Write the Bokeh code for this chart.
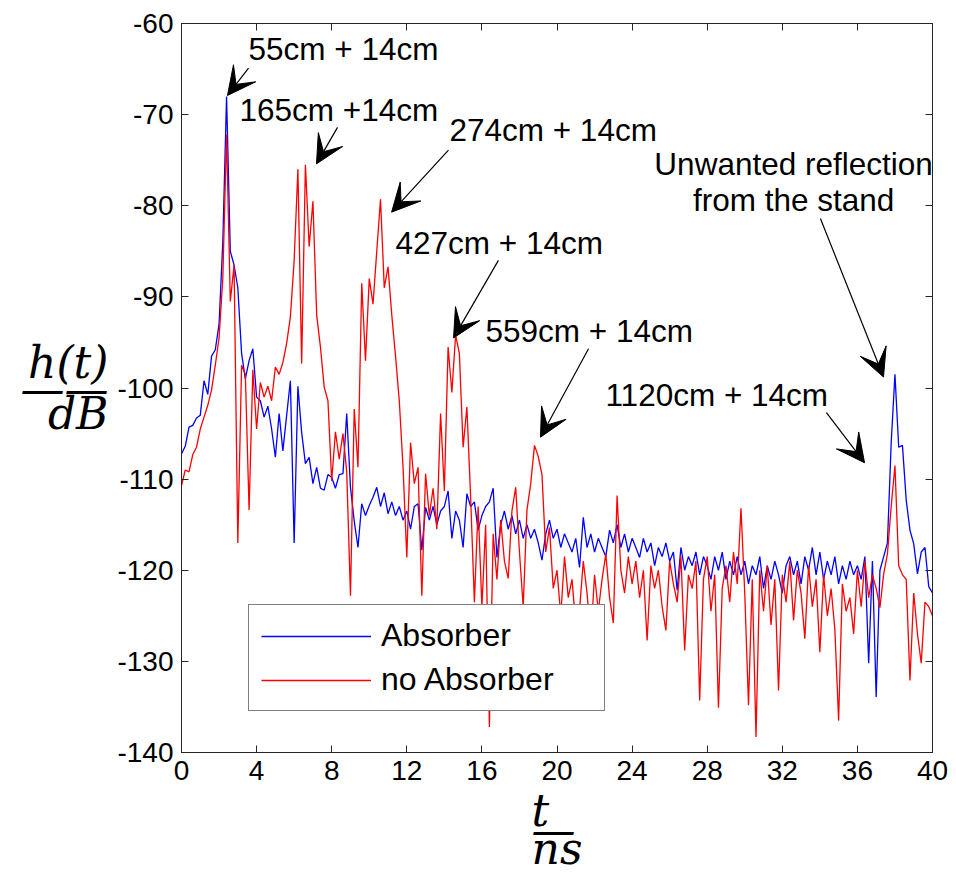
from bokeh.plotting import figure
from bokeh.models import (Range1d, LinearAxis, FixedTicker, Label, Arrow, VeeHead,
                          Legend, LegendItem, ColumnDataSource, Title)
from bokeh.embed import file_html
from bokeh.resources import INLINE

# ---------------- data ----------------
T_STEP = 0.2  # ns between samples, starting at 0 ns

absorber = [
    -107.2, -106.4, -104.3, -104.1, -103.3, -103.0, -99.2, -100.7, -96.5, -95.8,
    -93.0, -84.0, -68.0, -85.0, -86.5, -89.0, -96.2, -99.0, -97.0, -95.7,
    -101.0, -101.4, -103.2, -102.0, -104.5, -107.6, -102.8, -106.9, -103.0, -99.2,
    -117.0, -99.8, -104.9, -108.3, -107.6, -110.5, -108.7, -111.0, -111.2, -109.5,
    -109.8, -111.0, -109.5, -109.4, -102.8, -110.9, -114.6, -117.5, -112.7, -114.0,
    -112.9, -112.0, -110.9, -113.0, -111.5, -113.8, -112.5, -114.0, -113.0, -114.5,
    -113.5, -115.5, -113.0, -112.7, -117.8, -113.1, -114.5, -113.0, -115.0, -113.5,
    -113.0, -111.3, -116.5, -113.5, -114.5, -117.5, -111.6, -113.0, -112.5, -115.6,
    -114.0, -113.0, -112.5, -111.0, -118.6, -115.0, -113.5, -115.5, -114.0, -116.0,
    -114.5, -116.5, -115.0, -116.5, -115.5, -117.0, -118.9, -116.0, -114.5, -116.5,
    -115.5, -117.5, -116.0, -117.0, -118.0, -116.5, -119.7, -114.2, -117.5, -116.0,
    -118.0, -116.5, -117.5, -118.5, -115.6, -117.0, -115.0, -117.5, -116.0, -118.0,
    -116.5, -117.5, -118.6, -116.5, -118.0, -117.0, -119.5, -117.5, -118.5, -117.0,
    -119.0, -118.0, -122.2, -117.5, -120.0, -118.5, -119.5, -118.0, -120.5, -118.5,
    -119.5, -121.0, -118.5, -120.0, -118.0, -121.0, -119.0, -120.5, -118.5, -120.5,
    -119.0, -121.5, -119.5, -120.5, -118.5, -122.0, -119.5, -121.0, -119.0, -120.5,
    -122.5, -119.5, -118.5, -120.5, -119.0, -121.5, -118.5, -120.0, -117.5, -120.5,
    -118.0, -121.0, -119.0, -120.5, -118.5, -121.5, -119.5, -121.0, -119.0, -120.5,
    -119.5, -121.0, -118.5, -130.2, -119.0, -133.9, -120.0, -118.5, -117.0, -106.0,
    -98.5, -106.5, -106.3, -112.3, -115.6, -117.1, -120.4, -118.0, -117.5, -121.8,
    -122.5,
]

no_absorber = [
    -110.7, -109.0, -109.2, -107.3, -106.5, -104.5, -103.2, -101.9, -100.2, -97.5,
    -94.5, -88.0, -72.2, -90.5, -86.5, -117.0, -97.5, -98.5, -113.4, -98.0,
    -104.5, -99.4, -101.0, -99.8, -101.4, -97.7, -98.5, -97.2, -95.1, -92.2,
    -86.0, -76.0, -97.3, -75.5, -84.5, -79.5, -92.0, -95.5, -99.9, -101.4,
    -110.2, -104.8, -107.8, -105.0, -109.2, -122.8, -102.3, -108.7, -88.5, -97.0,
    -88.0, -90.8, -85.0, -79.3, -89.0, -86.7, -92.0, -96.5, -101.4, -108.7,
    -118.6, -106.0, -110.5, -108.7, -122.8, -109.4, -114.0, -111.0, -115.5, -102.8,
    -111.3, -95.5, -100.5, -94.2, -96.2, -106.5, -102.1, -112.0, -123.5, -113.0,
    -124.0, -115.0, -137.2, -116.0, -121.0, -114.5, -119.0, -120.9, -113.5, -110.9,
    -118.0, -124.0, -113.4, -110.5, -106.3, -107.5, -109.5, -118.0, -115.3, -122.0,
    -120.0, -125.0, -118.5, -123.0, -121.0, -126.0, -124.4, -119.0, -122.5, -127.5,
    -120.5, -124.5, -121.0, -118.2, -123.0, -125.8, -111.8, -120.0, -122.5, -118.5,
    -121.5, -119.0, -123.0, -120.0, -127.7, -119.5, -122.0, -120.0, -124.0, -126.6,
    -119.0, -121.5, -123.5, -118.5, -128.8, -120.5, -122.0, -119.0, -134.3, -121.0,
    -118.5, -124.5, -120.5, -135.1, -122.0, -119.5, -123.5, -118.0, -121.5, -113.2,
    -122.5, -134.8, -121.0, -138.3, -120.0, -124.5, -119.5, -126.0, -121.0, -133.2,
    -120.5, -123.5, -119.0, -125.5, -120.0, -122.5, -127.5, -119.5, -124.0, -121.0,
    -129.0, -120.5, -125.0, -122.0, -126.5, -136.5, -121.5, -124.5, -123.0, -127.0,
    -120.0, -124.0, -119.0, -123.0, -120.5, -122.0, -124.1, -120.4, -118.2, -113.0,
    -108.5, -119.5, -120.5, -121.0, -132.1, -122.5, -127.0, -130.2, -123.5, -124.0,
    -125.0,
]

x_ticks = [0, 4, 8, 12, 16, 20, 24, 28, 32, 36, 40]
y_ticks = [-140, -130, -120, -110, -100, -90, -80, -70, -60]
y_tick_labels = ["-140", "-130", "-120", "-110", "-100", "-90", "-80", "-70", "-60"]

y_label = "h(t)\n——\ndB"
x_label = "t\n—\nns"

# annotations: text, text x, text y, arrow tail (x, y), arrow tip (x, y)
annotations = [
    ("55cm + 14cm", 3.57, -62.85, 3.57, -64.9, 2.45, -67.9),
    ("165cm +14cm", 3.09, -69.5, 8.31, -71.4, 7.19, -75.4),
    ("274cm + 14cm", 14.27, -71.7, 14.22, -73.9, 11.19, -80.7),
    ("427cm + 14cm", 11.4, -84.1, 16.88, -86.0, 14.49, -94.5),
    ("559cm + 14cm", 16.19, -93.7, 21.68, -95.7, 19.12, -105.4),
    ("1120cm + 14cm", 22.58, -100.8, 34.35, -102.7, 36.38, -108.2),
]
stand_lines = ["Unwanted reflection", "from the stand"]
stand_arrow = (34.03, -81.4, 37.39, -98.8)

times = [i * T_STEP for i in range(len(absorber))]

# ---------------- figure ----------------
TXT = "Liberation Sans"
MATH = "DejaVu Serif"
AX_COL = "#262626"

p = figure(width=952, height=874, output_backend="svg", toolbar_location=None,
           x_range=Range1d(0, 40), y_range=Range1d(-140, -60),
           min_border_left=181, min_border_right=20, min_border_top=23,
           min_border_bottom=122, background_fill_color="white",
           border_fill_color="white")
p.xgrid.visible = False
p.ygrid.visible = False
p.outline_line_color = AX_COL
p.outline_line_width = 1

src = ColumnDataSource(dict(t=times, a=absorber, n=no_absorber))
rb = p.line("t", "a", source=src, line_color="#0000ff", line_width=1.3)
rr = p.line("t", "n", source=src, line_color="#ff0000", line_width=1.3)

def style_axis(ax, ticks, labels=None):
    ax.ticker = FixedTicker(ticks=ticks)
    ax.major_tick_in = 7
    ax.major_tick_out = 0
    ax.minor_tick_line_color = None
    ax.axis_line_color = AX_COL
    ax.major_tick_line_color = AX_COL
    if labels is not None:
        ax.major_label_overrides = {t: l for t, l in zip(ticks, labels)}
        ax.major_label_text_font = TXT
        ax.major_label_text_font_size = "28px"
        ax.major_label_text_color = "black"
        ax.major_label_standoff = 8
    else:
        ax.major_label_overrides = {t: "" for t in ticks}
        ax.major_label_text_font_size = "0px"
        ax.major_label_standoff = 0

style_axis(p.xaxis[0], x_ticks, [str(t) for t in x_ticks])
style_axis(p.yaxis[0], y_ticks, y_tick_labels)
ax_r = LinearAxis()
style_axis(ax_r, y_ticks)
p.add_layout(ax_r, "right")
ax_t = LinearAxis()
style_axis(ax_t, x_ticks)
p.add_layout(ax_t, "above")

# y axis label as a horizontal stacked fraction
ya = p.yaxis[0]
ya.axis_label = y_label
ya.axis_label_orientation = "horizontal"
ya.axis_label_text_font = MATH
ya.axis_label_text_font_style = "italic"
ya.axis_label_text_font_size = "44px"
ya.axis_label_text_line_height = 0.5
ya.axis_label_text_color = "black"
ya.axis_label_standoff = 6

# x axis label as a title below the axis, shifted left like the reference
xt = Title(text=x_label, align="center", offset=-63, text_font=MATH,
           text_font_style="italic", text_font_size="44px", text_line_height=0.38,
           text_color="black", standoff=0)
p.add_layout(xt, "below")

# legend
legend = Legend(items=[LegendItem(label="Absorber", renderers=[rb]),
                       LegendItem(label="no Absorber", renderers=[rr])],
                location=(67, 41))
legend.label_text_font = TXT
legend.label_text_font_size = "32px"
legend.label_text_color = "black"
legend.border_line_color = "black"
legend.border_line_width = 1
legend.background_fill_alpha = 1.0
legend.padding = 12
legend.spacing = 7
legend.glyph_height = 36
legend.label_height = 36
legend.glyph_width = 110
legend.label_standoff = 10
legend.label_width = 211
legend.margin = 0
p.add_layout(legend)

def head():
    return VeeHead(size=28, fill_color="black", line_color="black", line_width=1)

for text, tx, ty, x0, y0, x1, y1 in annotations:
    p.add_layout(Label(x=tx, y=ty, text=text, text_font=TXT, text_font_size="31.5px",
                       text_baseline="middle", text_align="left", text_color="black"))
    p.add_layout(Arrow(x_start=x0, y_start=y0, x_end=x1, y_end=y1, end=head(),
                       line_color="black", line_width=1.2))

for txt, yy in zip(stand_lines, [-75.4, -79.4]):
    p.add_layout(Label(x=32.6, y=yy, text=txt, text_font=TXT, text_font_size="31.5px",
                       text_baseline="middle", text_align="center", text_color="black"))
p.add_layout(Arrow(x_start=stand_arrow[0], y_start=stand_arrow[1],
                   x_end=stand_arrow[2], y_end=stand_arrow[3], end=head(),
                   line_color="black", line_width=1.2))

open("out.html", "w").write(file_html(p, INLINE))
